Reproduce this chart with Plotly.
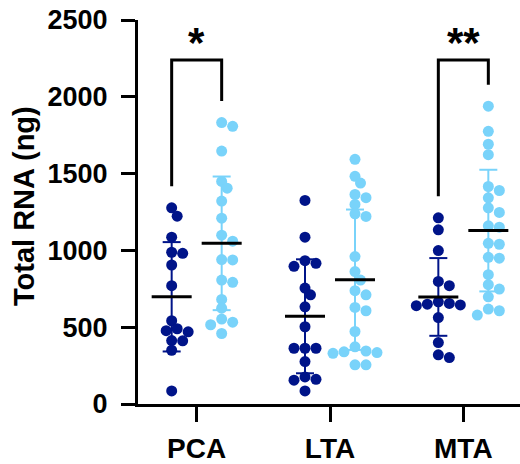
import plotly.graph_objects as go

# Total RNA yield per region, two conditions
categories = ["PCA", "LTA", "MTA"]

pca_dark = [1277, 1223, 1086, 988, 981, 905, 770, 542, 490, 477, 470, 413, 411, 350, 85]
lta_dark = [1325, 1086, 933, 916, 896, 755, 711, 633, 503, 363, 363, 363, 276, 176, 161, 155, 85]
mta_dark = [1212, 1134, 999, 798, 770, 665, 655, 650, 645, 640, 563, 400, 320, 302]

pca_light = [1832, 1808, 1647, 1449, 1405, 1321, 1210, 1099, 1060, 940, 938, 807, 792,
             681, 624, 553, 533, 516, 459]
lta_light = [1593, 1482, 1438, 1364, 1343, 1299, 1238, 1221, 960, 862, 807, 738, 711,
             629, 607, 472, 372, 345, 340, 335, 330, 255, 255]
mta_light = [1939, 1775, 1691, 1623, 1416, 1390, 1342, 1277, 1247, 1160, 1151, 1046, 1040,
             955, 949, 842, 777, 748, 698, 618, 607, 579]

# group summaries (mean and SD)
dark_mean = [698, 571, 697]
dark_sd = [356, 371, 253]
light_mean = [1046, 809, 1129]
light_sd = [435, 457, 396]

# significance between the two conditions
sig_labels = {"PCA": "*", "MTA": "**"}

y_ticks = [0, 500, 1000, 1500, 2000, 2500]

DARK = "#001489"
LIGHT = "#79D3FA"
FONT = "Liberation Sans, Arial, sans-serif"

W, H = 520, 464
L, R, T, B = 138, 0, 20, 60
X_RANGE = [-0.44, 2.425]
Y_RANGE = [0, 2500]
px_x = (W - L - R) / (X_RANGE[1] - X_RANGE[0])
px_y = (H - T - B) / (Y_RANGE[1] - Y_RANGE[0])

GROUP_OFF = 0.1875
DOT = 11


def swarm(values):
    """Greedy beeswarm: horizontal offsets (axis units), dots may overlap a little."""
    step = DOT / 2
    placed = []
    offs = [0.0] * len(values)
    order = sorted(range(len(values)), key=lambda i: -values[i])
    cands = [0]
    for n in range(1, 12):
        cands += [n, -n]
    for i in order:
        yp = values[i] * px_y
        for k in cands:
            xp = k * step
            if all((xp - a) ** 2 + (yp - b) ** 2 >= (DOT * 0.78) ** 2 for a, b in placed):
                break
        placed.append((xp, yp))
        offs[i] = xp / px_x
    return offs


dark_groups = [pca_dark, lta_dark, mta_dark]
light_groups = [pca_light, lta_light, mta_light]

fig = go.Figure()
shapes = []


def add_group(ci, vals, mean, sd, color, side):
    cx = ci + side * GROUP_OFF
    offs = swarm(vals)
    # SD bar with caps
    cap = 9 / px_x
    shapes.append(dict(type="line", x0=cx, x1=cx, y0=mean - sd, y1=mean + sd,
                       line=dict(color=color, width=2), layer="below"))
    for yv in (mean - sd, mean + sd):
        shapes.append(dict(type="line", x0=cx - cap, x1=cx + cap, y0=yv, y1=yv,
                           line=dict(color=color, width=2), layer="below"))
    fig.add_trace(go.Scatter(
        x=[cx + o for o in offs], y=vals, mode="markers",
        marker=dict(color=color, size=DOT, line=dict(width=0)),
        showlegend=False, hoverinfo="y"))
    # mean line on top
    half = 20 / px_x
    shapes.append(dict(type="line", x0=cx - half, x1=cx + half, y0=mean, y1=mean,
                       line=dict(color="black", width=3), layer="above"))


for ci in range(len(categories)):
    add_group(ci, dark_groups[ci], dark_mean[ci], dark_sd[ci], DARK, -1)
    add_group(ci, light_groups[ci], light_mean[ci], light_sd[ci], LIGHT, +1)

# significance brackets
annotations = []
BRACKET_TOP = 2239
GAP = 140
for ci, cat in enumerate(categories):
    if cat not in sig_labels:
        continue
    xl, xr = ci - GROUP_OFF, ci + GROUP_OFF
    yl = max(dark_groups[ci]) + GAP
    yr = max(light_groups[ci]) + GAP
    shapes.append(dict(type="path",
                       path=f"M {xl} {yl} L {xl} {BRACKET_TOP} L {xr} {BRACKET_TOP} L {xr} {yr}",
                       line=dict(color="black", width=3), layer="above"))
    annotations.append(dict(x=ci, y=BRACKET_TOP - 50, xref="x", yref="y",
                            text=f"<b>{sig_labels[cat]}</b>", showarrow=False,
                            yanchor="bottom",
                            font=dict(family=FONT, size=42, color="black")))

# y-axis title
annotations.append(dict(xref="paper", yref="paper",
                        x=(24 - L) / (W - L - R), y=(H - B - 206) / (H - T - B),
                        text="<b>Total RNA (ng)</b>", textangle=-90, showarrow=False,
                        xanchor="center", yanchor="middle",
                        font=dict(family=FONT, size=29, color="black")))

fig.update_layout(
    width=W, height=H,
    margin=dict(l=L, r=R, t=T, b=B, pad=0),
    paper_bgcolor="white", plot_bgcolor="white",
    shapes=shapes, annotations=annotations,
    xaxis=dict(range=X_RANGE, tickvals=list(range(len(categories))),
               ticktext=[f"<b>{c}</b>" for c in categories],
               showgrid=False, zeroline=False, showline=True, linecolor="black",
               linewidth=3, ticks="outside", ticklen=15, tickwidth=3, tickcolor="black",
               ticklabelstandoff=2,
               tickfont=dict(family=FONT, size=28, color="black")),
    yaxis=dict(range=Y_RANGE, tickvals=y_ticks,
               ticktext=[f"<b>{v}</b>" for v in y_ticks],
               showgrid=False, zeroline=False, showline=True, linecolor="black",
               linewidth=3, ticks="outside", ticklen=14, tickwidth=3, tickcolor="black",
               ticklabelstandoff=8,
               tickfont=dict(family=FONT, size=27, color="black")),
)

fig.write_html("out.html")
